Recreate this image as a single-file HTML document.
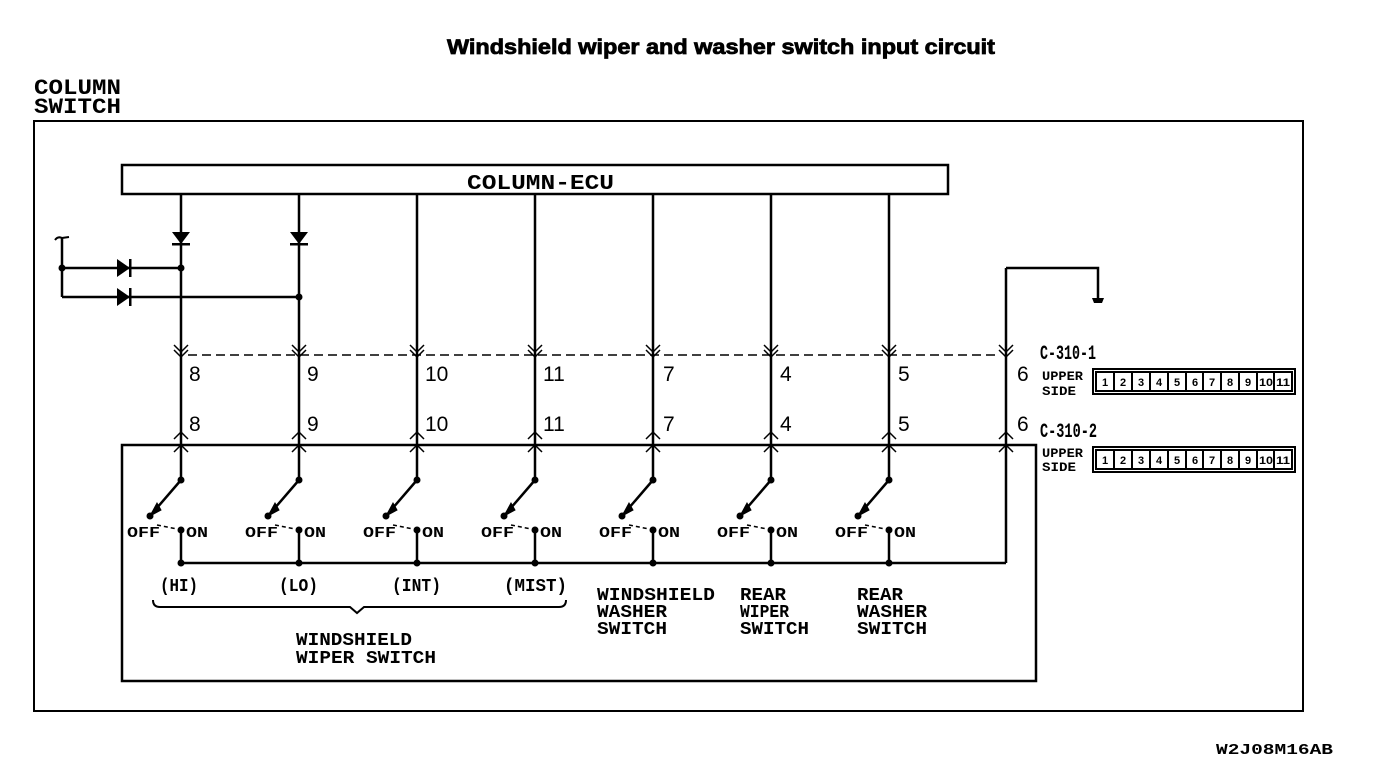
<!DOCTYPE html>
<html><head><meta charset="utf-8"><style>
html,body{margin:0;padding:0;background:#fff;}
svg{display:block}
.m{font-family:"Liberation Mono",monospace;font-weight:bold;}
.s{font-family:"Liberation Sans",sans-serif;}
</style></head><body>
<svg width="1392" height="780" viewBox="0 0 1392 780" xmlns="http://www.w3.org/2000/svg">
<defs>
<g id="sw" stroke="#000" stroke-width="2.5" fill="none">
  <line x1="0" y1="194" x2="0" y2="480"/>
  <polyline points="-7,345 0,352 7,345" stroke-width="1.5"/>
  <polyline points="-7,350 0,357 7,350" stroke-width="1.5"/>
  <polyline points="-7,439 0,432 7,439" stroke-width="1.5"/>
  <polyline points="-7,452 0,445 7,452" stroke-width="1.5"/>
  <line x1="0" y1="480" x2="-31" y2="516"/>
  <polygon points="-31,516 -24,503 -20,510" fill="#000" stroke-width="1"/>
  <circle cx="0" cy="480" r="3.5" fill="#000" stroke="none"/>
  <circle cx="-31" cy="516" r="3.5" fill="#000" stroke="none"/>
  <line x1="-24" y1="525" x2="-4" y2="529" stroke-dasharray="4,3" stroke-width="1.5"/>
  <circle cx="0" cy="530" r="3.5" fill="#000" stroke="none"/>
  <line x1="0" y1="530" x2="0" y2="563"/>
  <circle cx="0" cy="563" r="3.5" fill="#000" stroke="none"/>
  <text x="-54" y="537" class="m" font-size="15" fill="#000" stroke="none" textLength="33" lengthAdjust="spacingAndGlyphs">OFF</text>
  <text x="5" y="537" class="m" font-size="15" fill="#000" stroke="none" textLength="22" lengthAdjust="spacingAndGlyphs">ON</text>
</g>
<g id="conn">
  <rect x="0" y="0" width="202" height="25" fill="none" stroke="#000" stroke-width="2"/>
  <rect x="3" y="3" width="196" height="19" fill="none" stroke="#000" stroke-width="2"/>
</g>
</defs>

<text x="447" y="54" class="s" font-weight="bold" font-size="21" stroke="#000" stroke-width="0.8" textLength="548" lengthAdjust="spacingAndGlyphs">Windshield wiper and washer switch input circuit</text>
<text x="34" y="94" class="m" font-weight="normal" font-size="22" textLength="87" lengthAdjust="spacingAndGlyphs">COLUMN</text>
<text x="34" y="113" class="m" font-weight="normal" font-size="22" textLength="87" lengthAdjust="spacingAndGlyphs">SWITCH</text>

<g stroke="#000" stroke-width="2" fill="none">
<rect x="34" y="121" width="1269" height="590"/>
<rect x="122" y="165" width="826" height="29" stroke-width="2.5"/>
<rect x="122" y="445" width="914" height="236" stroke-width="2.5"/>
</g>
<text x="467" y="189" class="m" font-weight="normal" font-size="21" textLength="147" lengthAdjust="spacingAndGlyphs">COLUMN-ECU</text>

<use href="#sw" x="181"/><use href="#sw" x="299"/><use href="#sw" x="417"/><use href="#sw" x="535"/>
<use href="#sw" x="653"/><use href="#sw" x="771"/><use href="#sw" x="889"/>

<g stroke="#000" stroke-width="2.5" fill="none">
<line x1="181" y1="563" x2="1006" y2="563"/>
<line x1="1006" y1="563" x2="1006" y2="268"/>
<polyline points="1006,268 1098,268 1098,298"/>
<polyline points="999,345 1006,352 1013,345" stroke-width="1.5"/>
<polyline points="999,350 1006,357 1013,350" stroke-width="1.5"/>
<polyline points="999,439 1006,432 1013,439" stroke-width="1.5"/>
<polyline points="999,452 1006,445 1013,452" stroke-width="1.5"/>
<line x1="188" y1="355" x2="1000" y2="355" stroke-width="1.5" stroke-dasharray="9,5"/>
<path d="M55,240 Q58,236 62,238 L69,237" stroke-width="2"/>
<line x1="62" y1="238" x2="62" y2="297"/>
<line x1="62" y1="268" x2="181" y2="268"/>
<line x1="62" y1="297" x2="299" y2="297"/>
</g>
<g fill="#000">
<path d="M1092,298 h12 l-2,5 h-8 z"/>
<circle cx="62" cy="268" r="3.5"/><circle cx="181" cy="268" r="3.5"/><circle cx="299" cy="297" r="3.5"/>
<polygon points="117,259 130,268 117,277"/><rect x="129" y="259" width="2.5" height="18"/>
<polygon points="117,288 130,297 117,306"/><rect x="129" y="288" width="2.5" height="18"/>
<polygon points="172,232 190,232 181,244"/><rect x="172" y="243" width="18" height="2.5"/>
<polygon points="290,232 308,232 299,244"/><rect x="290" y="243" width="18" height="2.5"/>
</g>

<g class="s" font-size="21">
<text x="189" y="381">8</text><text x="307" y="381">9</text><text x="425" y="381">10</text><text x="543" y="381">11</text>
<text x="663" y="381">7</text><text x="780" y="381">4</text><text x="898" y="381">5</text><text x="1017" y="381">6</text>
<text x="189" y="431">8</text><text x="307" y="431">9</text><text x="425" y="431">10</text><text x="543" y="431">11</text>
<text x="663" y="431">7</text><text x="780" y="431">4</text><text x="898" y="431">5</text><text x="1017" y="431">6</text>
</g>

<g class="m" font-weight="normal" font-size="20">
<text x="1040" y="359" textLength="56" lengthAdjust="spacingAndGlyphs">C-310-1</text>
<text x="1040" y="437" textLength="57" lengthAdjust="spacingAndGlyphs">C-310-2</text>
</g>
<g class="m" font-size="13">
<text x="1042" y="380" textLength="41" lengthAdjust="spacingAndGlyphs">UPPER</text>
<text x="1042" y="395" textLength="34" lengthAdjust="spacingAndGlyphs">SIDE</text>
<text x="1042" y="457" textLength="41" lengthAdjust="spacingAndGlyphs">UPPER</text>
<text x="1042" y="471" textLength="34" lengthAdjust="spacingAndGlyphs">SIDE</text>
</g>
<use href="#conn" x="1093" y="369"/><use href="#conn" x="1093" y="447"/>
<g stroke="#000" stroke-width="2">
<line x1="1114" y1="372" x2="1114" y2="391"/><line x1="1132" y1="372" x2="1132" y2="391"/><line x1="1150" y1="372" x2="1150" y2="391"/><line x1="1168" y1="372" x2="1168" y2="391"/><line x1="1186" y1="372" x2="1186" y2="391"/><line x1="1203" y1="372" x2="1203" y2="391"/><line x1="1221" y1="372" x2="1221" y2="391"/><line x1="1239" y1="372" x2="1239" y2="391"/><line x1="1257" y1="372" x2="1257" y2="391"/><line x1="1274" y1="372" x2="1274" y2="391"/>
<line x1="1114" y1="450" x2="1114" y2="469"/><line x1="1132" y1="450" x2="1132" y2="469"/><line x1="1150" y1="450" x2="1150" y2="469"/><line x1="1168" y1="450" x2="1168" y2="469"/><line x1="1186" y1="450" x2="1186" y2="469"/><line x1="1203" y1="450" x2="1203" y2="469"/><line x1="1221" y1="450" x2="1221" y2="469"/><line x1="1239" y1="450" x2="1239" y2="469"/><line x1="1257" y1="450" x2="1257" y2="469"/><line x1="1274" y1="450" x2="1274" y2="469"/>
</g>
<g class="s" font-weight="bold" font-size="11" text-anchor="middle">
<text x="1105" y="386">1</text><text x="1123" y="386">2</text><text x="1141" y="386">3</text><text x="1159" y="386">4</text><text x="1177" y="386">5</text><text x="1195" y="386">6</text><text x="1212" y="386">7</text><text x="1230" y="386">8</text><text x="1248" y="386">9</text><text x="1266" y="386" textLength="14" lengthAdjust="spacingAndGlyphs">10</text><text x="1283" y="386" textLength="14" lengthAdjust="spacingAndGlyphs">11</text>
<text x="1105" y="464">1</text><text x="1123" y="464">2</text><text x="1141" y="464">3</text><text x="1159" y="464">4</text><text x="1177" y="464">5</text><text x="1195" y="464">6</text><text x="1212" y="464">7</text><text x="1230" y="464">8</text><text x="1248" y="464">9</text><text x="1266" y="464" textLength="14" lengthAdjust="spacingAndGlyphs">10</text><text x="1283" y="464" textLength="14" lengthAdjust="spacingAndGlyphs">11</text>
</g>

<g class="m" font-weight="normal" font-size="18">
<text x="160" y="591" textLength="38" lengthAdjust="spacingAndGlyphs">(HI)</text>
<text x="279" y="591" textLength="39" lengthAdjust="spacingAndGlyphs">(LO)</text>
<text x="392" y="591" textLength="49" lengthAdjust="spacingAndGlyphs">(INT)</text>
<text x="504" y="591" textLength="63" lengthAdjust="spacingAndGlyphs">(MIST)</text>
</g>
<path d="M153,600 Q153,607 160,607 L350,607 L357,613 L364,607 L559,607 Q566,607 566,600" fill="none" stroke="#000" stroke-width="2"/>

<g class="m" font-size="18">
<text x="296" y="645" textLength="116" lengthAdjust="spacingAndGlyphs">WINDSHIELD</text>
<text x="296" y="663" textLength="140" lengthAdjust="spacingAndGlyphs">WIPER SWITCH</text>
<text x="597" y="600" textLength="118" lengthAdjust="spacingAndGlyphs">WINDSHIELD</text>
<text x="597" y="617" textLength="70" lengthAdjust="spacingAndGlyphs">WASHER</text>
<text x="597" y="634" textLength="70" lengthAdjust="spacingAndGlyphs">SWITCH</text>
<text x="740" y="600" textLength="46" lengthAdjust="spacingAndGlyphs">REAR</text>
<text x="740" y="617" textLength="49" lengthAdjust="spacingAndGlyphs">WIPER</text>
<text x="740" y="634" textLength="69" lengthAdjust="spacingAndGlyphs">SWITCH</text>
<text x="857" y="600" textLength="46" lengthAdjust="spacingAndGlyphs">REAR</text>
<text x="857" y="617" textLength="70" lengthAdjust="spacingAndGlyphs">WASHER</text>
<text x="857" y="634" textLength="70" lengthAdjust="spacingAndGlyphs">SWITCH</text>
</g>
<text x="1216" y="754" class="m" font-size="15" textLength="117" lengthAdjust="spacingAndGlyphs">W2J08M16AB</text>
</svg>
</body></html>
